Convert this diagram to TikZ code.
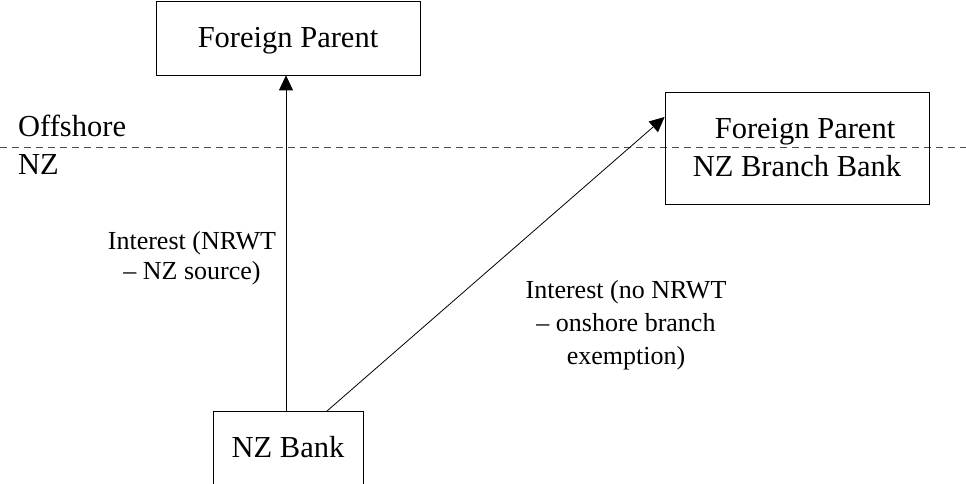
\documentclass[tikz,border=0pt]{standalone}
\usepackage{fontspec}
\setmainfont{Liberation Serif}
\usetikzlibrary{arrows.meta}

\tikzset{
	entity/.style = {draw, line width = 0.8pt, inner sep = 0pt, font = \fontsize{30.5}{38}\selectfont, align = center},
	flow/.style = {line width = 0.8pt, -{Triangle[length = 15pt, width = 14pt]}},
	note/.style = {inner sep = 0pt, font = \fontsize{26}{31}\selectfont, align = center}
}

\begin{document}
\begin{tikzpicture}[x = 1pt, y = -1pt]
		\useasboundingbox (0, 0) rectangle (966, 484);
		% Border
		\draw[black!70, line width = 0.8pt, dash pattern = on 7pt off 5pt] (0, 147) -- (966, 147);
		\node[inner sep = 0pt, anchor = base west, font = \fontsize{30.5}{38}\selectfont] (offshore) at (18, 137) {Offshore};
		\node[inner sep = 0pt, anchor = base west, font = \fontsize{30.5}{38}\selectfont] (nz) at (18, 175) {NZ};
		% Entities
		\node[entity, minimum width = 264pt, minimum height = 74pt, text height = 22pt, text depth = 2pt] (parent) at (288, 38) {Foreign Parent};
		\node[entity, minimum width = 264pt, minimum height = 112pt] (branch) at (797, 148) {\hspace*{16pt}Foreign Parent\\NZ Branch Bank};
		\node[entity, minimum width = 150pt, anchor = north, text height = 46pt, text depth = 40pt] (bank) at (288, 411) {NZ Bank};
		% Flows
		\draw[flow] ([xshift = -2pt]bank.north) -- ([xshift = -2pt]parent.south);
		\draw[flow] ([xshift = 39pt]bank.north) -- ([yshift = 31pt]branch.west);
		% Labels
		\node[note, font = \fontsize{26}{30}\selectfont] (nrwt) at (192, 258) {Interest (NRWT\\ -- NZ source)};
		\node[note, font = \fontsize{26}{33}\selectfont] (exempt) at (626, 325) {Interest (no NRWT\\ -- onshore branch\\ exemption)};
	\end{tikzpicture}
\end{document}
